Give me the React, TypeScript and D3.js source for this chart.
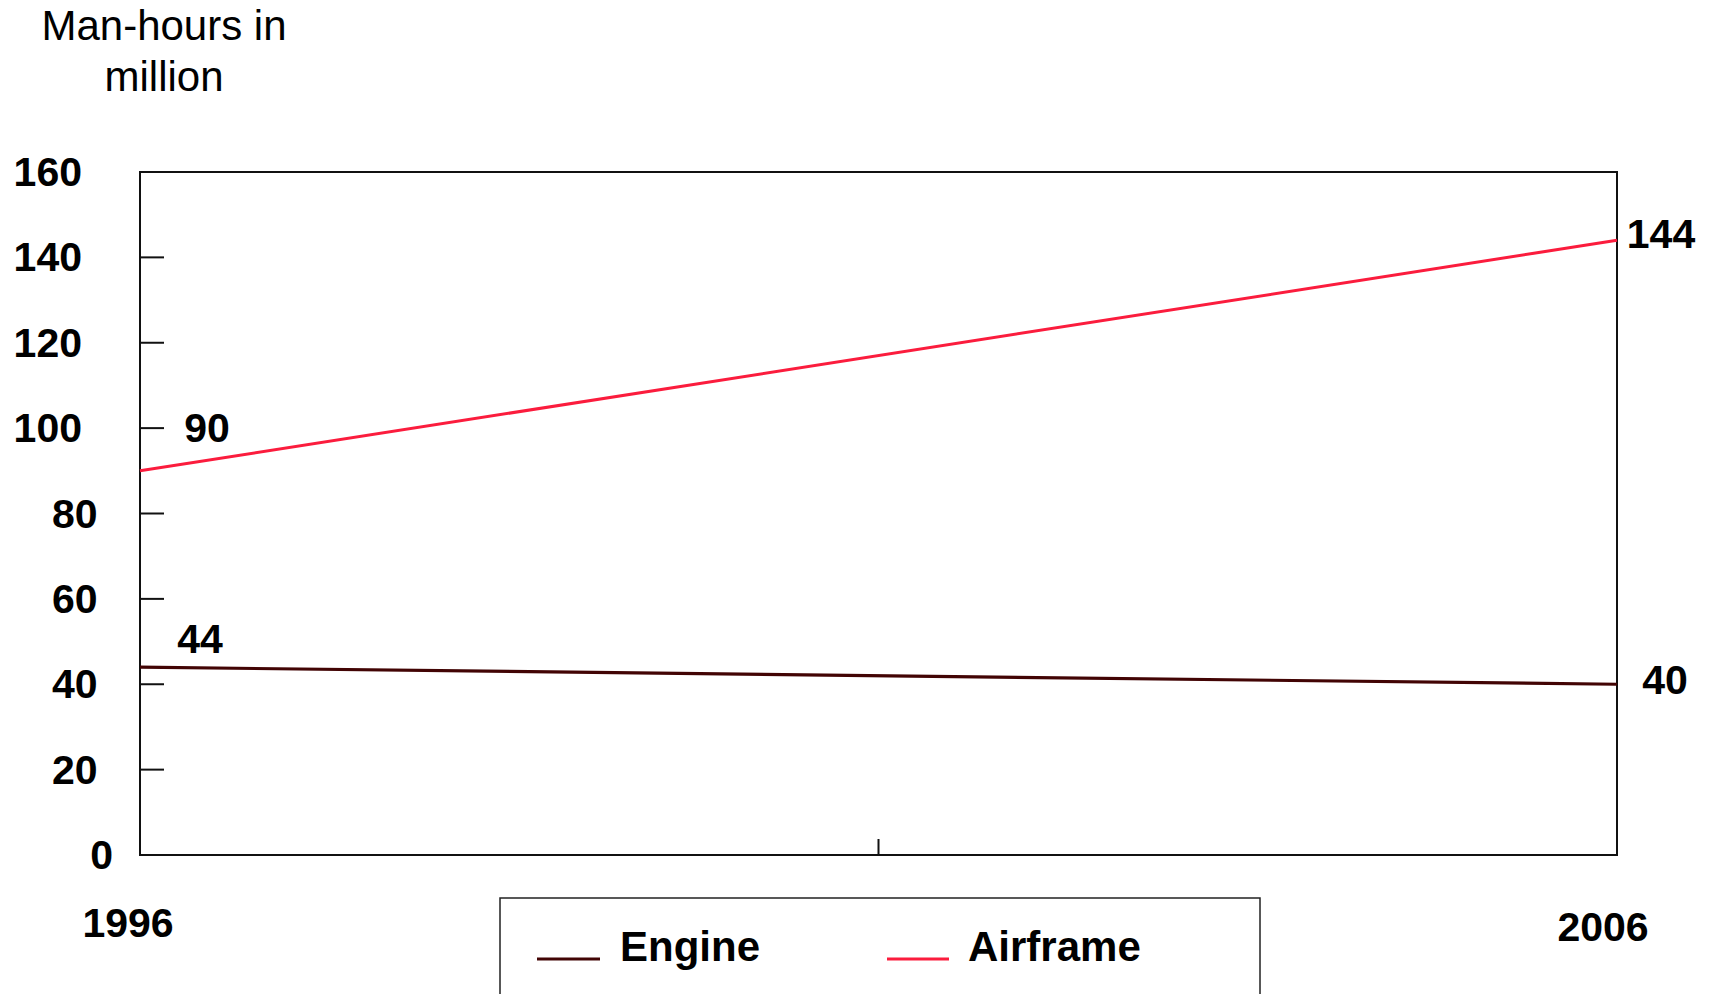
import React from "react";
import * as d3 from "d3";

// Chart data
const years = [1996, 2006];
const engineValues = [44, 40];
const airframeValues = [90, 144];
const yTicks = [0, 20, 40, 60, 80, 100, 120, 140, 160];
const xTicks = [1996, 2001, 2006];
const xLabels = ["1996", "2006"];
const seriesNames = ["Engine", "Airframe"];

const W = 1711;
const H = 994;
const FONT = "'Liberation Sans', Arial, sans-serif";
const ENGINE_COLOR = "#420404";
const AIRFRAME_COLOR = "#fb1c3d";

const plot = { left: 140, right: 1617, top: 172, bottom: 855 };

export default function App() {
  const x = d3.scaleLinear().domain([1996, 2006]).range([plot.left, plot.right]);
  const y = d3.scaleLinear().domain([0, 160]).range([plot.bottom, plot.top]);

  const line = d3
    .line<[number, number]>()
    .x((d) => x(d[0]))
    .y((d) => y(d[1]));

  const engineData = years.map((yr, i) => [yr, engineValues[i]] as [number, number]);
  const airframeData = years.map((yr, i) => [yr, airframeValues[i]] as [number, number]);

  // value label offsets (dx, dy to baseline) from their points (start / end)
  const labelOffsets = {
    airframe: [
      [67, -29],
      [44, 8],
    ],
    engine: [
      [60, -14],
      [48, 10],
    ],
  };

  const boldText = {
    fontFamily: FONT,
    fontWeight: 700,
    fontSize: 41,
    fill: "#000",
  } as const;

  const legendText = { ...boldText, fontSize: 42 };

  return (
    <svg
      width={W}
      height={H}
      style={{ position: "absolute", left: 0, top: 0, background: "#fff" }}
    >
      <rect x={0} y={0} width={W} height={H} fill="#fff" />

      {/* axis title */}
      <text
        x={164}
        y={40}
        textAnchor="middle"
        style={{ fontFamily: FONT, fontSize: 42, fill: "#000" }}
      >
        <tspan x={164} y={40}>Man-hours in</tspan>
        <tspan x={164} y={91}>million</tspan>
      </text>

      {/* plot frame */}
      <rect
        x={plot.left}
        y={plot.top}
        width={plot.right - plot.left}
        height={plot.bottom - plot.top}
        fill="none"
        stroke="#111"
        strokeWidth={2}
      />

      {/* y ticks and labels */}
      {yTicks.map((t) => {
        const label = String(t);
        return (
          <g key={t}>
            {t > 0 && (
              <line
                x1={plot.left}
                x2={plot.left + (t === 160 ? 17 : 24)}
                y1={y(t)}
                y2={y(t)}
                stroke="#111"
                strokeWidth={2}
              />
            )}
            <text
              x={128.5 - 15.5 * label.length}
              y={y(t) + 14}
              textAnchor="end"
              style={boldText}
            >
              {label}
            </text>
          </g>
        );
      })}

      {/* x ticks */}
      {xTicks.map((t) => (
        <line
          key={t}
          x1={x(t)}
          x2={x(t)}
          y1={plot.bottom}
          y2={plot.bottom - (t === 2001 ? 16 : 22)}
          stroke="#111"
          strokeWidth={2}
        />
      ))}

      {/* x labels */}
      <text x={x(1996) - 12} y={937} textAnchor="middle" style={boldText}>
        {xLabels[0]}
      </text>
      <text x={x(2006) - 14} y={941} textAnchor="middle" style={boldText}>
        {xLabels[1]}
      </text>

      {/* series lines */}
      <path d={line(engineData) || ""} fill="none" stroke={ENGINE_COLOR} strokeWidth={3.2} />
      <path d={line(airframeData) || ""} fill="none" stroke={AIRFRAME_COLOR} strokeWidth={3} />

      {/* value labels */}
      {airframeData.map((d, i) => (
        <text
          key={"a" + i}
          x={x(d[0]) + labelOffsets.airframe[i][0]}
          y={y(d[1]) + labelOffsets.airframe[i][1]}
          textAnchor="middle"
          style={boldText}
        >
          {d[1]}
        </text>
      ))}
      {engineData.map((d, i) => (
        <text
          key={"e" + i}
          x={x(d[0]) + labelOffsets.engine[i][0]}
          y={y(d[1]) + labelOffsets.engine[i][1]}
          textAnchor="middle"
          style={boldText}
        >
          {d[1]}
        </text>
      ))}

      {/* legend */}
      <rect x={500} y={898} width={760} height={120} fill="#fff" stroke="#222" strokeWidth={1.5} />
      <line x1={537} x2={600} y1={959} y2={959} stroke={ENGINE_COLOR} strokeWidth={3.2} />
      <text x={620} y={961} style={legendText}>
        {seriesNames[0]}
      </text>
      <line x1={887} x2={949} y1={959} y2={959} stroke={AIRFRAME_COLOR} strokeWidth={3} />
      <text x={968} y={961} style={legendText}>
        {seriesNames[1]}
      </text>
    </svg>
  );
}
